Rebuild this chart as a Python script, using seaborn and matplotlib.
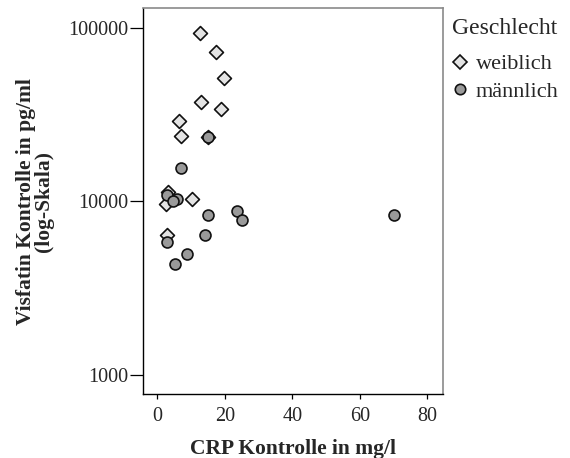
import numpy as np
import pandas as pd
import matplotlib
matplotlib.use("Agg")
import matplotlib.pyplot as plt
from matplotlib.lines import Line2D
from matplotlib.ticker import FixedLocator, NullLocator, FixedFormatter
import seaborn as sns

# CRP (mg/l) and Visfatin (pg/ml) for the control group, by sex
crp_weiblich = [12.7, 17.3, 19.8, 12.9, 18.8, 6.3, 6.9, 15.0, 3.1, 2.6, 10.4, 3.0]
visfatin_weiblich = [94400, 73300, 51500, 37400, 34300, 29300, 23800, 23700,
                     11400, 9720, 10300, 6380]
crp_maennlich = [15.1, 6.9, 2.8, 5.8, 4.6, 15.1, 23.7, 25.2, 70.2, 14.1, 3.0, 8.7, 5.2]
visfatin_maennlich = [23700, 15600, 10900, 10300, 10050, 8390, 8850, 7850, 8390,
                      6410, 5800, 4960, 4360]

groups = ["weiblich", "männlich"]
y_ticks = [1000, 10000, 100000]
x_ticks = [0, 20, 40, 60, 80]

df = pd.DataFrame({
    "CRP": crp_weiblich + crp_maennlich,
    "Visfatin": visfatin_weiblich + visfatin_maennlich,
    "Geschlecht": [groups[0]] * len(crp_weiblich) + [groups[1]] * len(crp_maennlich),
})

sns.set_theme(style="white")
plt.rcParams["font.family"] = ["Liberation Serif", "DejaVu Serif"]

fig = plt.figure(figsize=(5.7, 4.58), dpi=100)
ax = fig.add_axes([0.2504, 0.1391, 0.5268, 0.8428])

fill = {"weiblich": "#e4e4e4", "männlich": "#9a9a9a"}
marks = {"weiblich": "D", "männlich": "o"}
size = {"weiblich": 50, "männlich": 62}

# women first, so the men's circles sit on top where points overlap
for g in groups:
    sns.scatterplot(data=df[df["Geschlecht"] == g], x="CRP", y="Visfatin",
                    marker=marks[g], color=fill[g], s=size[g],
                    edgecolor="#111111", linewidth=1.2, legend=False, ax=ax,
                    zorder=3)

ax.set_yscale("log")
ax.set_xlim(-4.3, 84.6)
ax.set_ylim(10 ** 2.887, 10 ** 5.115)

ax.xaxis.set_major_locator(FixedLocator(x_ticks))
ax.yaxis.set_major_locator(FixedLocator(y_ticks))
ax.yaxis.set_major_formatter(FixedFormatter([str(v) for v in y_ticks]))
ax.yaxis.set_minor_locator(NullLocator())

ax.tick_params(axis="x", direction="out", length=3.8, width=0.9, color="black",
               labelsize=14.5, pad=5, bottom=True)
ax.tick_params(axis="y", direction="out", length=9.2, width=0.9, color="black",
               labelsize=14.5, pad=1.5, left=True)

for side in ["left", "bottom"]:
    ax.spines[side].set_color("black")
    ax.spines[side].set_linewidth(1.0)
for side in ["top", "right"]:
    ax.spines[side].set_color("#8a8a8a")
    ax.spines[side].set_linewidth(1.2)

ax.set_xlabel("CRP Kontrolle in mg/l", fontsize=15.5, fontweight="bold", labelpad=10)
ax.set_ylabel("Visfatin Kontrolle in pg/ml\n(log-Skala)", fontsize=15.5,
              fontweight="bold", labelpad=10, linespacing=0.85)

handles = [
    Line2D([], [], linestyle="none", marker=marks[g], markersize=7 if g == "weiblich" else 7.5,
           markerfacecolor=fill[g], markeredgecolor="#111111", markeredgewidth=1.2)
    for g in groups
]
leg = fig.legend(handles, groups, title="Geschlecht", loc="upper left",
                 bbox_to_anchor=(436 / 570, 1 - 2 / 458), frameon=False,
                 fontsize=16, title_fontsize=17, handlelength=0.8,
                 handletextpad=0.3, labelspacing=0.3, borderpad=0.2,
                 alignment="left")
leg._legend_box.sep = 11

fig.savefig("out.png", dpi=100)
